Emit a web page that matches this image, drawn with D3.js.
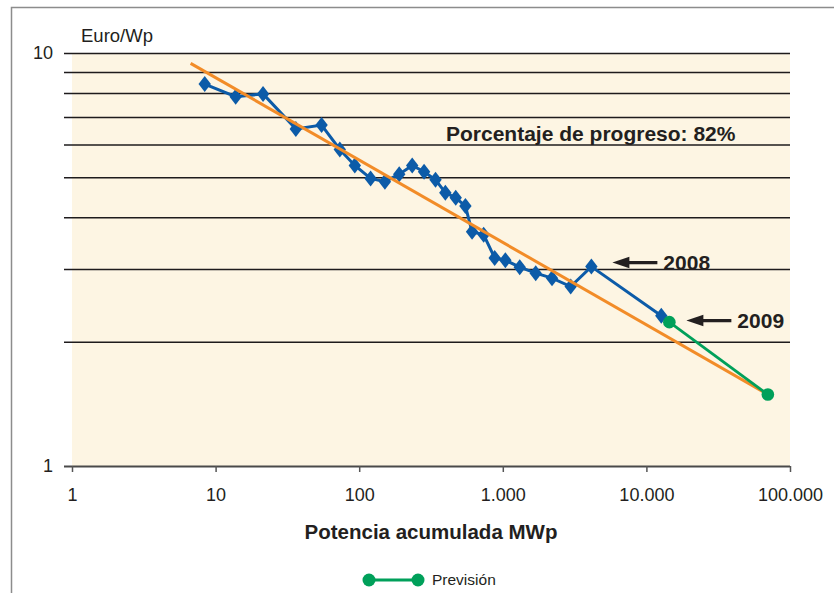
<!DOCTYPE html>
<html>
<head>
<meta charset="utf-8">
<script src="https://cdn.jsdelivr.net/npm/d3@7"></script>
<style>
  body { margin: 0; background: #fff; }
  text { font-family: "Liberation Sans", Arial, sans-serif; fill: #231f20; }
</style>
</head>
<body>
<div id="chart-area"></div>
<script>
// cumulative power (MWp) vs module price (Euro/Wp)
const potencia = [8.4, 13.8, 21.4, 36.2, 54.7, 73.3, 93.2, 120, 151, 190, 234, 283, 340, 398, 470, 549, 611, 736, 878, 1042, 1312, 1695, 2202, 2970, 4138, 12700]
const precio = [8.41, 7.84, 7.96, 6.55, 6.69, 5.84, 5.34, 4.97, 4.88, 5.09, 5.34, 5.16, 4.93, 4.59, 4.46, 4.26, 3.69, 3.63, 3.19, 3.15, 3.03, 2.93, 2.85, 2.72, 3.04, 2.31]

// forecast
const prevPotencia = [14450, 70100]
const prevPrecio = [2.23, 1.49]

// learning curve fit
const tendPotencia = [6.7, 70100]
const tendPrecio = [9.44, 1.49]

// arrows
const anotaciones = ["2008", "2009"]
const anotPotencia = [4138, 14450]
const anotPrecio = [3.04, 2.23]

const xTicks = [1, 10, 100, 1000, 10000, 100000]
const yTicks = [1, 2, 3, 4, 5, 6, 7, 8, 9, 10]

const MARGIN = {LEFT: 72, TOP: 53}
const WIDTH = 718
const HEIGHT = 413

const svg = d3.select("#chart-area").append("svg")
    .attr("width", 834)
    .attr("height", 593)

// outer frame
svg.append("path")
    .attr("d", "M11.5,593V7.5H834")
    .attr("fill", "none")
    .attr("stroke", "#8c8c8c")
    .attr("stroke-width", 1.5)

const g = svg.append("g")
    .attr("transform", `translate(${MARGIN.LEFT},${MARGIN.TOP})`)

const x = d3.scaleLog().domain([1, 100000]).range([0, WIDTH])
const y = d3.scaleLog().domain([1, 10]).range([HEIGHT, 0])

g.append("rect")
    .attr("width", WIDTH)
    .attr("height", HEIGHT)
    .attr("fill", "#fdf5e3")

// gridlines + y labels
const yAxisCall = d3.axisLeft(y)
    .tickValues(yTicks)
    .tickSize(-(WIDTH + 8))
    .tickPadding(11)
    .tickFormat(d => (d === 1 || d === 10) ? d : "")
const yAxis = g.append("g")
    .attr("transform", "translate(-8,0)")
    .call(yAxisCall)
yAxis.select(".domain").remove()
yAxis.selectAll("line")
    .attr("stroke", d => d === 1 ? "#4a4a4a" : "#1e1b1c")
    .attr("stroke-width", d => d === 1 ? 1.8 : 1.5)
yAxis.selectAll("text")
    .attr("font-size", "18px")
    .attr("fill", "#231f20")

// x axis
const xAxisCall = d3.axisBottom(x)
    .tickValues(xTicks)
    .tickSize(6)
    .tickPadding(16)
    .tickFormat(d => d3.format(",")(d).replace(/,/g, "."))
const xAxis = g.append("g")
    .attr("transform", `translate(0,${HEIGHT})`)
    .call(xAxisCall)
xAxis.select(".domain").remove()
xAxis.selectAll("line")
    .attr("stroke", "#555")
    .attr("stroke-width", 1.5)
xAxis.selectAll("text")
    .attr("font-size", "18px")
    .attr("fill", "#231f20")

// labels
svg.append("text")
    .attr("x", 81)
    .attr("y", 42)
    .attr("font-size", "18.5px")
    .text("Euro/Wp")

svg.append("text")
    .attr("x", MARGIN.LEFT + WIDTH / 2)
    .attr("y", 539)
    .attr("text-anchor", "middle")
    .attr("font-size", "20.5px")
    .attr("font-weight", "bold")
    .text("Potencia acumulada MWp")

svg.append("text")
    .attr("x", 446)
    .attr("y", 141)
    .attr("font-size", "21px")
    .attr("font-weight", "bold")
    .text("Porcentaje de progreso: 82%")

const line = d3.line()
    .x(d => x(d[0]))
    .y(d => y(d[1]))

// historical series
g.append("path")
    .datum(d3.zip(potencia, precio))
    .attr("d", line)
    .attr("fill", "none")
    .attr("stroke", "#0c5ba8")
    .attr("stroke-width", 3)

g.selectAll(".diamond").data(d3.zip(potencia, precio))
    .enter().append("path")
    .attr("class", "diamond")
    .attr("transform", d => `translate(${x(d[0])},${y(d[1])})`)
    .attr("d", "M0,-8L6.2,0L0,8L-6.2,0Z")
    .attr("fill", "#0c5ba8")

// trend line
g.append("path")
    .datum(d3.zip(tendPotencia, tendPrecio))
    .attr("d", line)
    .attr("fill", "none")
    .attr("stroke", "#f28c28")
    .attr("stroke-width", 3)

// forecast
g.append("path")
    .datum(d3.zip(prevPotencia, prevPrecio))
    .attr("d", line)
    .attr("fill", "none")
    .attr("stroke", "#00a05a")
    .attr("stroke-width", 2.8)

g.selectAll(".prev").data(d3.zip(prevPotencia, prevPrecio))
    .enter().append("circle")
    .attr("class", "prev")
    .attr("cx", d => x(d[0]))
    .attr("cy", d => y(d[1]))
    .attr("r", 6.3)
    .attr("fill", "#00a05a")

// arrows
const arrows = g.selectAll(".arrow").data(d3.zip(anotaciones, anotPotencia, anotPrecio))
    .enter().append("g")
    .attr("class", "arrow")
    .attr("transform", (d, i) => `translate(${x(d[1]) + (i === 0 ? 21 : 17)},${y(d[2]) - (i === 0 ? 4 : 1.6)})`)
arrows.append("line")
    .attr("x1", 12)
    .attr("x2", 45)
    .attr("stroke", "#231f20")
    .attr("stroke-width", 3.2)
arrows.append("path")
    .attr("d", "M0,0L17,-5.8L17,5.8Z")
    .attr("fill", "#231f20")
arrows.append("text")
    .attr("x", 51)
    .attr("dy", "0.36em")
    .attr("font-size", "21px")
    .attr("font-weight", "bold")
    .text(d => d[0])

// legend
const legend = svg.append("g")
    .attr("transform", "translate(369,580)")
legend.append("line")
    .attr("x2", 49)
    .attr("stroke", "#00a05a")
    .attr("stroke-width", 3)
legend.selectAll("circle").data([0, 49])
    .enter().append("circle")
    .attr("cx", d => d)
    .attr("r", 6.5)
    .attr("fill", "#00a05a")
legend.append("text")
    .attr("x", 63)
    .attr("dy", "0.35em")
    .attr("font-size", "15.5px")
    .text("Previsión")
</script>
</body>
</html>
